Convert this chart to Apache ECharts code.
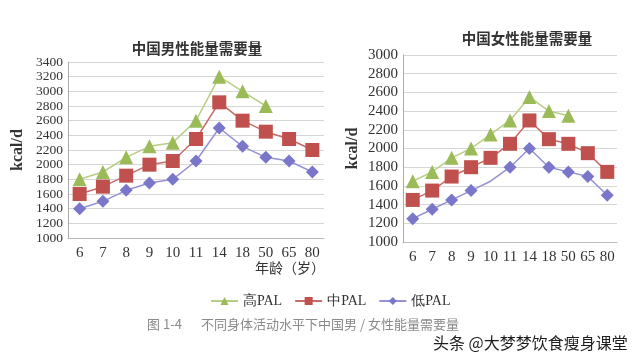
<!DOCTYPE html>
<html><head><meta charset="utf-8">
<script src="https://cdn.jsdelivr.net/npm/echarts@6/dist/echarts.min.js"></script>
<style>html,body{margin:0;padding:0;background:#fff}#c{width:640px;height:360px}</style>
</head><body><div id="c"></div>
<script>
const ages = ['6','7','8','9','10','11','14','18','50','65','80'];
const maleHigh = [1800,1900,2100,2250,2300,2600,3200,3000,2800,null,null];
const maleMid  = [1600,1700,1850,2000,2050,2350,2850,2600,2450,2350,2200];
const maleLow  = [1400,1500,1650,1750,1800,2050,2500,2250,2100,2050,1900];
const femHigh  = [1650,1750,1900,2000,2150,2300,2550,2400,2350,null,null];
const femMid   = [1450,1550,1700,1800,1900,2050,2300,2100,2050,1950,1750];
const femLow   = [1250,1350,1450,1550,1650,1800,2000,1800,1750,1700,1500];
const names = ['高PAL','中PAL','低PAL'];

const serif = '"Liberation Serif","DejaVu Serif",serif';
const cjk = '"Noto Sans CJK SC",sans-serif';
const colors = {high:'#9bbb59', mid:'#c0504d', low:'#7a76c9'};
const lineCol = {high:'#b7cf84', mid:'#c86a67', low:'#9491d6'};

function yAx(gi, min, max, fs){
  return {gridIndex:gi, type:'value', min:min, max:max, interval:200,
    name:'kcal/d', nameLocation:'middle', nameRotate:90, nameGap:42,
    nameTextStyle:{fontFamily:serif, fontSize:16, color:'#333', fontWeight:'bold'},
    axisLine:{show:true, lineStyle:{color:'#aaa'}}, axisTick:{show:false},
    axisLabel:{fontFamily:serif, fontSize:fs, color:'#333', margin:5,
      showMinLabel:true, showMaxLabel:true, hideOverlap:false, formatter:(v)=>String(v)},
    splitLine:{lineStyle:{color:'#d6d6d6'}}};
}
function xAx(gi){
  return {gridIndex:gi, type:'category', data:ages, boundaryGap:true,
    axisLine:{show:true, lineStyle:{color:'#bbb'}}, axisTick:{show:false},
    axisLabel:{fontFamily:serif, fontSize:15, color:'#333', margin:8, interval:0}};
}
function ser(name, key, data, gi, sym, size){
  const d = data.map((v,i)=> (key==='low' && gi===1 && i===4) ? {value:v, symbol:'none'} : v);
  return {name:name, type:'line', xAxisIndex:gi, yAxisIndex:gi, data:d,
    symbol:sym, symbolSize:size, showSymbol:true,
    lineStyle:{color:lineCol[key], width:1.5},
    itemStyle:{color:colors[key]}, connectNulls:false, animation:false};
}
const chart = echarts.init(document.getElementById('c'));
chart.setOption({
  backgroundColor:'#fff',
  title:[
    {text:'中国男性能量需要量', left:192, top:36, textAlign:'center',
     textStyle:{fontFamily:cjk, fontSize:14.5, fontWeight:'bold', color:'#333'}},
    {text:'中国女性能量需要量', left:522, top:26, textAlign:'center',
     textStyle:{fontFamily:cjk, fontSize:14.5, fontWeight:'bold', color:'#333'}}
  ],
  grid:[
    {left:68, right:640-324, top:62, bottom:360-238},
    {left:403, right:640-617, top:55, bottom:360-242}
  ],
  xAxis:[xAx(0), xAx(1)],
  yAxis:[yAx(0,1000,3400,13.5), yAx(1,1000,3000,15)],
  legend:{data:names, left:205, top:289, itemGap:12, itemWidth:27, itemHeight:10,
    textStyle:{fontFamily:serif, fontSize:14, color:'#333'}},
  graphic:[
    {type:'text', left:255, top:261, style:{text:'年龄（岁）', font:'14px "Noto Sans CJK SC"', fill:'#333'}},
    {type:'text', left:147, top:318, style:{text:'图 1-4', font:'13px "Noto Sans CJK SC"', fill:'#8a8a8a'}},
    {type:'text', left:201, top:318, style:{text:'不同身体活动水平下中国男 / 女性能量需要量', font:'13px "Noto Sans CJK SC"', fill:'#8a8a8a'}},
    {type:'text', left:432, top:334, style:{text:'头条 @大梦梦饮食瘦身课堂', font:'16px "Noto Sans CJK SC"', fill:'#1e1e1e', stroke:'#fff', lineWidth:2}}
  ],
  series:[
    ser(names[0],'high',maleHigh,0,'triangle',14),
    ser(names[1],'mid',maleMid,0,'rect',14),
    ser(names[2],'low',maleLow,0,'diamond',13),
    ser(names[0],'high',femHigh,1,'triangle',14),
    ser(names[1],'mid',femMid,1,'rect',14),
    ser(names[2],'low',femLow,1,'diamond',13)
  ]
});
</script></body></html>
